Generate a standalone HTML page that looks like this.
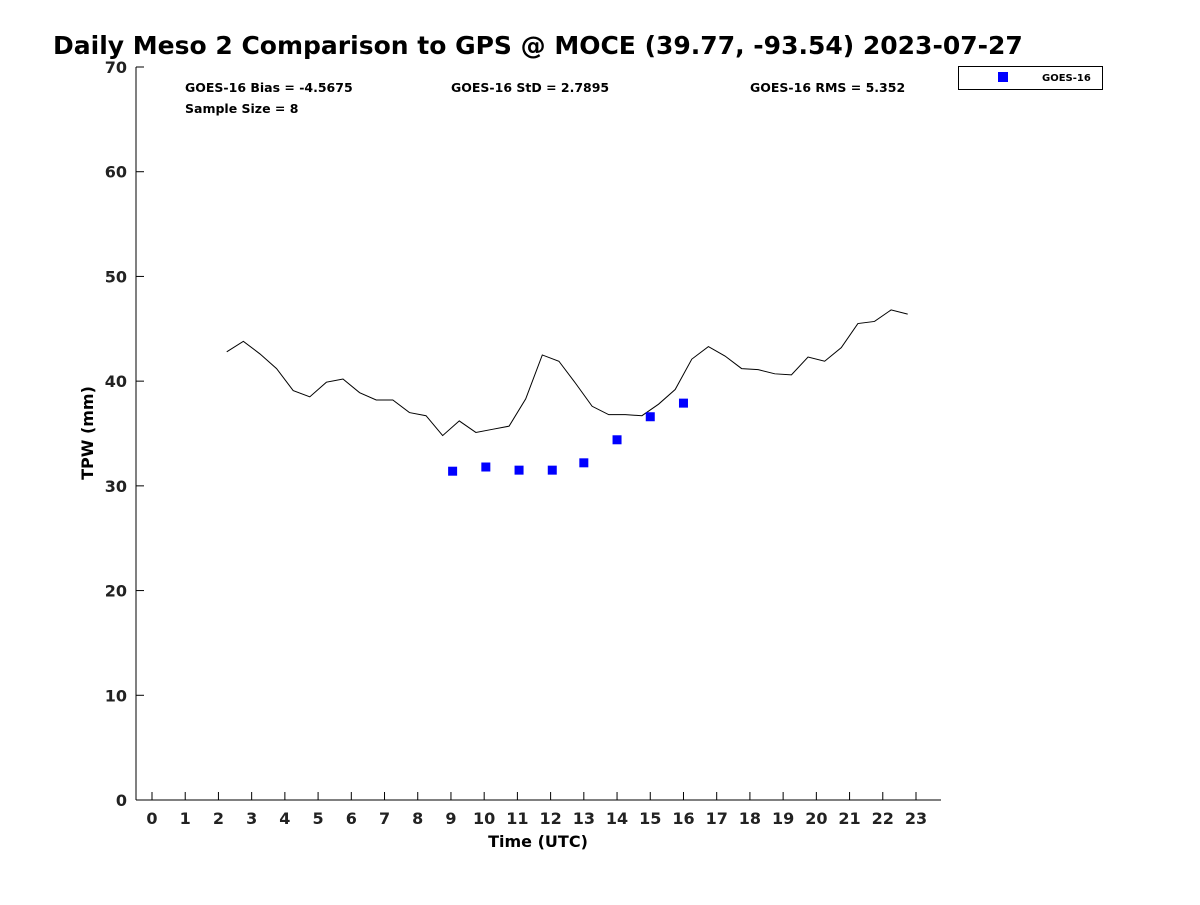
<!DOCTYPE html>
<html><head><meta charset="utf-8"><style>
body{margin:0;background:#fff;font-family:"Liberation Sans","DejaVu Sans",sans-serif}
svg text{font-family:"DejaVu Sans","Liberation Sans",sans-serif;font-weight:bold}
</style></head><body>
<svg id="chart" width="1200" height="900">
<text x="53" y="54" font-size="25">Daily Meso 2 Comparison to GPS @ MOCE (39.77, -93.54) 2023-07-27</text>
<rect x="136" y="67" width="805" height="733" fill="none"/>
<line x1="136" y1="67" x2="136" y2="800" stroke="#000"/>
<line x1="136" y1="800" x2="941" y2="800" stroke="#000"/>
<g id="xt"></g><g id="yt"></g><g id="series"></g>
<text x="538" y="847" font-size="16" text-anchor="middle">Time (UTC)</text>
<text transform="translate(93,433) rotate(-90)" font-size="16" text-anchor="middle">TPW (mm)</text>
<text x="185" y="92" font-size="12.5">GOES-16 Bias = -4.5675</text>
<text x="451" y="92" font-size="12.5">GOES-16 StD = 2.7895</text>
<text x="750" y="92" font-size="12.5">GOES-16 RMS = 5.352</text>
<text x="185" y="113" font-size="12.5">Sample Size = 8</text>
<g>
<rect x="958.5" y="66.5" width="144" height="23" fill="#fff" stroke="#000"/>
<rect x="998" y="72" width="10" height="10" fill="#0000ff"/>
<text x="1042" y="81" font-size="10">GOES-16</text>
</g>
</svg>
<script>
const gpsTimes=[];for(let i=0;i<42;i++)gpsTimes.push(2.25+0.5*i);
const gpsValues=[42.8,43.8,42.6,41.2,39.1,38.5,39.9,40.2,38.9,38.2,38.2,37.0,36.7,34.8,36.2,35.1,35.4,35.7,38.3,42.5,41.9,39.8,37.6,36.8,36.8,36.7,37.8,39.2,42.1,43.3,42.4,41.2,41.1,40.7,40.6,42.3,41.9,43.2,45.5,45.7,46.8,46.4];
const goesTimes=[9.05,10.05,11.05,12.05,13.0,14.0,15.0,16.0];
const goesValues=[31.4,31.8,31.5,31.5,32.2,34.4,36.6,37.9];
const xTicks=[...Array(24).keys()];
const yTicks=[0,10,20,30,40,50,60,70];
const NS='http://www.w3.org/2000/svg';
const xs=t=>152+t*(764/23);
const ys=v=>800-v*(733/70);
function mk(tag,attrs,parent){const e=document.createElementNS(NS,tag);for(const k in attrs)e.setAttribute(k,attrs[k]);parent.appendChild(e);return e;}
const xt=document.getElementById('xt'),yt=document.getElementById('yt'),sr=document.getElementById('series');
xTicks.forEach(t=>{
 const l=mk('line',{x1:xs(t),x2:xs(t),y1:800,y2:792,stroke:'#000'},xt);
 
 
 const tx=mk('text',{x:xs(t),y:824,'font-size':16,'text-anchor':'middle',fill:'#222'},xt);tx.textContent=t;
 
 
});
yTicks.forEach(v=>{
 const l=mk('line',{x1:136,x2:144,y1:ys(v),y2:ys(v),stroke:'#000'},yt);
 
 
 const tx=mk('text',{x:127,y:ys(v)+6,'font-size':16,'text-anchor':'end',fill:'#222'},yt);tx.textContent=v;
 
 
});
const p=mk('polyline',{points:gpsTimes.map((t,i)=>xs(t)+','+ys(gpsValues[i])).join(' '),fill:'none',stroke:'#000','stroke-width':1},sr);


goesTimes.forEach((t,i)=>{
 const r=mk('rect',{x:xs(t)-4.5,y:ys(goesValues[i])-4.5,width:9,height:9,fill:'#0000ff'},sr);
 
 
});
</script>
</body></html>
